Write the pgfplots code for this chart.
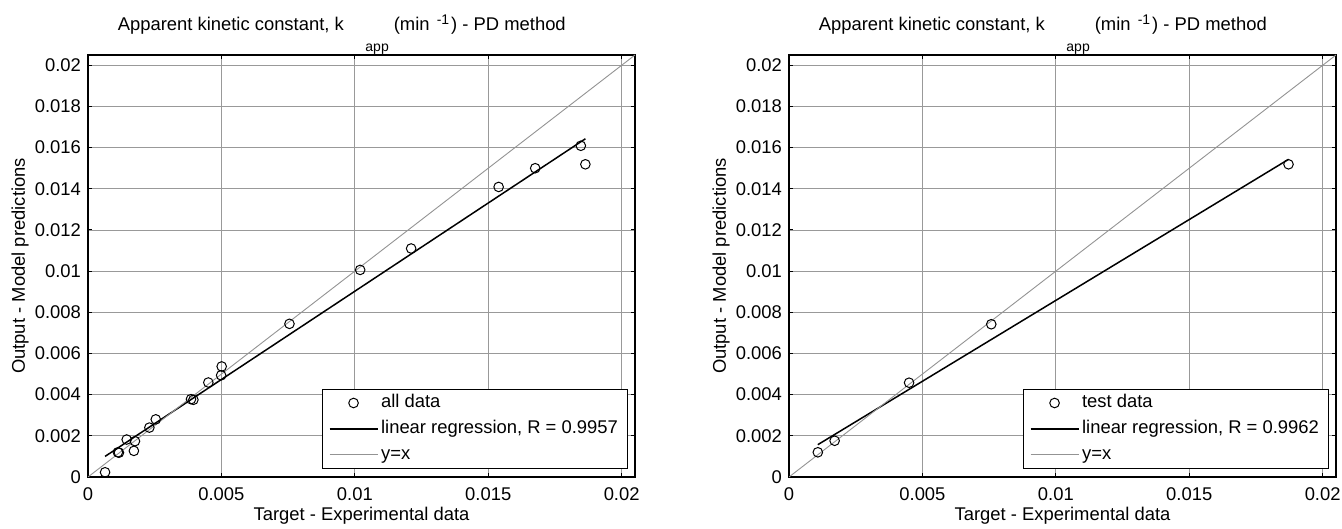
\documentclass[border=0pt]{standalone}
\usepackage{pgfplots}
\pgfplotsset{compat=1.18}
\usepackage{fontspec}
\setmainfont{Liberation Sans}
\newcommand{\mainfs}{\fontsize{9.2}{11}\selectfont}
\newcommand{\subfs}{\fontsize{7}{8}\selectfont}
\newcommand{\ttl}{Apparent kinetic constant, k\hspace{10.8pt}\raisebox{-10.3pt}{\subfs app}\hspace{2.5pt}(min\hspace{3.6pt}\raisebox{3pt}{\subfs -1}\hspace{1pt}) - PD method}

\pgfplotstableread{
x y
0.00064 0.00023
0.00112 0.00120
0.00116 0.00118
0.00145 0.00182
0.00176 0.00174
0.00172 0.00127
0.00230 0.00240
0.00254 0.00280
0.00386 0.00378
0.00395 0.00375
0.00451 0.00459
0.00501 0.00537
0.00499 0.00494
0.00755 0.00744
0.01020 0.01006
0.01211 0.01110
0.01539 0.01409
0.01676 0.01500
0.01847 0.01609
0.01864 0.01519
}\alldata

\pgfplotstableread{
x y
0.00108 0.00120
0.00171 0.00176
0.00450 0.00458
0.00758 0.00742
0.01872 0.01519
}\testdata

\pgfplotsset{
 myaxis/.style={
  scale only axis, width=273.5pt, height=211pt,
  xmin=0, xmax=0.0205, ymin=0, ymax=0.0205,
  scaled ticks=false,
  /pgf/number format/assume math mode=true,
  xtick={0,0.005,0.01,0.015,0.02},
  xticklabels={0,0.005,0.01,0.015,0.02},
  ytick={0,0.002,0.004,0.006,0.008,0.01,0.012,0.014,0.016,0.018,0.02},
  yticklabels={0,0.002,0.004,0.006,0.008,0.01,0.012,0.014,0.016,0.018,0.02},
  tick align=inside, xtick pos=both, ytick pos=both,
  major tick length=2pt,
  tick style={black, line width=0.5pt},
  grid=major, major grid style={gray!80, line width=0.45pt},
  axis line style={black, line width=0.6pt},
  xticklabel style={yshift=-1.7pt},
  every axis title/.style={at={([xshift=14.7pt,yshift=12pt]axis description cs:0,1)}, anchor=base west, inner sep=0pt},
  every axis x label/.style={at={([yshift=-21.8pt]axis description cs:0.5,0)}, anchor=base},
  every axis y label/.style={at={([xshift=-34pt]axis description cs:0,0.5)}, rotate=90, anchor=center},
  xlabel={Target - Experimental data},
  ylabel={Output - Model predictions},
  title={\ttl},
  legend cell align=left,
  legend style={at={(1,0)}, anchor=south east, xshift=-3.5pt, yshift=4pt, draw=black, line width=0.5pt,
    inner xsep=3.4pt, inner ysep=0.5pt, row sep=0pt, column sep=0pt,
    nodes={inner xsep=1.4pt, inner ysep=1.6pt, text height=7.2pt, text depth=2.5pt},
    font=\mainfs},
  legend image code/.code={\draw[#1] (0pt,0pt) -- (24pt,0pt);},
 },
 dataplot/.style={only marks, mark=o, mark size=2.4pt, black, line width=0.5pt,
   legend image code/.code={\draw[mark repeat=2,mark phase=2,##1] plot coordinates {(0pt,0pt) (12pt,0pt) (24pt,0pt)};}},
 regplot/.style={black, line width=0.75pt, no marks},
 idplot/.style={gray!85, line width=0.45pt, no marks},
}

\begin{document}
\begin{tikzpicture}[font=\mainfs]
\path[use as bounding box] (0,0) rectangle (671pt,264.5pt);
\begin{axis}[myaxis, at={(44pt,26pt)}, anchor=south west]
\addplot[dataplot] table[x=x,y=y] {\alldata};
\addlegendentry{all data}
\addplot[regplot] coordinates {(0.00064,0.00100) (0.01864,0.01643)};
\addlegendentry{linear regression, R = 0.9957}
\addplot[idplot] coordinates {(0,0) (0.0205,0.0205)};
\addlegendentry{y=x}
\end{axis}
\begin{axis}[myaxis, at={(394.5pt,26pt)}, anchor=south west]
\addplot[dataplot] table[x=x,y=y] {\testdata};
\addlegendentry{test data}
\addplot[regplot] coordinates {(0.00108,0.00157) (0.01872,0.01543)};
\addlegendentry{linear regression, R = 0.9962}
\addplot[idplot] coordinates {(0,0) (0.0205,0.0205)};
\addlegendentry{y=x}
\end{axis}
\end{tikzpicture}
\end{document}
